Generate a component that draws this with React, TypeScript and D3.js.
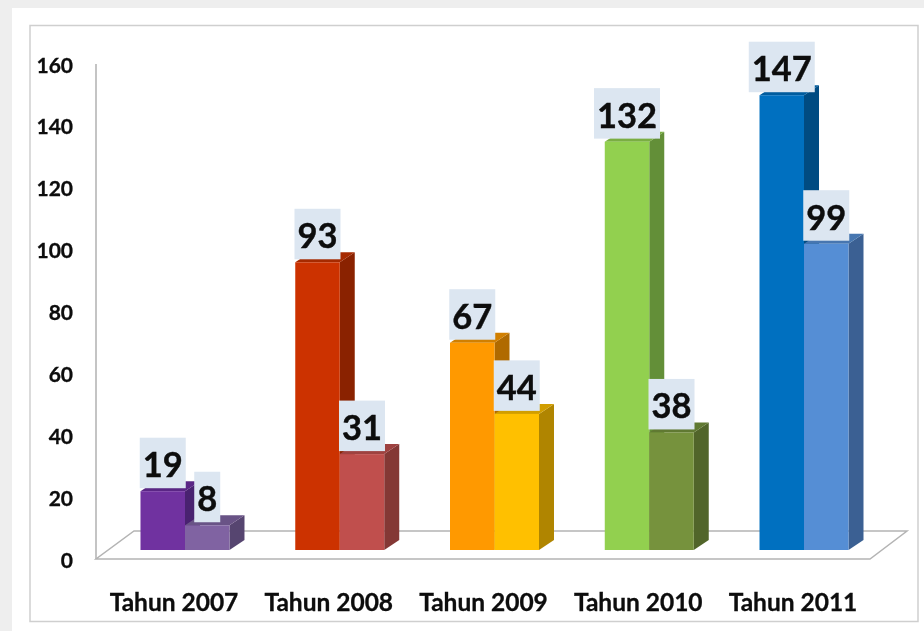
import React from "react";
import * as d3 from "d3";

const categories = ["Tahun 2007", "Tahun 2008", "Tahun 2009", "Tahun 2010", "Tahun 2011"];
const seriesA = [19, 93, 67, 132, 147];
const seriesB = [8, 31, 44, 38, 99];
const yTicks = [0, 20, 40, 60, 80, 100, 120, 140, 160];
const coloursA = [
  { front: "#7030a0", side: "#4a2070", top: "#5a2885" },
  { front: "#cc3300", side: "#8a2300", top: "#a62a00" },
  { front: "#ff9900", side: "#b06a00", top: "#d17f00" },
  { front: "#92d050", side: "#648f37", top: "#7aae43" },
  { front: "#0070c0", side: "#004b82", top: "#005c9e" },
];
const coloursB = [
  { front: "#8064a2", side: "#574570", top: "#695386" },
  { front: "#c0504d", side: "#843735", top: "#9e4240" },
  { front: "#ffc000", side: "#b08500", top: "#d19e00" },
  { front: "#76923c", side: "#516529", top: "#617932" },
  { front: "#558ed5", side: "#3a6193", top: "#4676b0" },
];

const W = 924, H = 631;
const BASE = 550, OFFSET = 9, DX = 15, DY = 10;
const FONT = "Lato, 'Open Sans', sans-serif";

export default function App() {
  const y = d3.scaleLinear().domain([0, 160]).range([BASE, 55]);
  const x = d3.scaleBand().domain(categories).range([140.5, 848.5]).paddingInner(0.425).paddingOuter(0);
  const bw = x.bandwidth() / 2;

  const bar = (x0: number, v: number, c: { front: string; side: string; top: string }, key: string) => {
    const t = y(v);
    const x1 = x0 + bw;
    return (
      <g key={key}>
        <path d={`M${x1},${t}L${x1 + DX},${t - DY}L${x1 + DX},${BASE - DY}L${x1},${BASE}Z`} fill={c.side} />
        <path d={`M${x0},${t}L${x0 + DX},${t - DY}L${x1 + DX},${t - DY}L${x1},${t}Z`} fill={c.top} />
        <rect x={x0} y={t} width={bw} height={BASE - t} fill={c.front} />
      </g>
    );
  };

  const label = (cx: number, v: number, key: string) => {
    const s = String(v);
    const w = s.length === 1 ? 26 : s.length === 2 ? 46 : 66;
    const t = y(v);
    return (
      <g key={key}>
        <rect x={cx - w / 2} y={t - 53.5} width={w} height={50.5} fill="#dce6f1" />
        <text x={cx} y={t - 14} textAnchor="middle" fontFamily={FONT} fontWeight={700} fontSize={34.5} stroke="#0a0a0a" strokeWidth={0.4} fill="#0a0a0a">{s}</text>
      </g>
    );
  };

  return (
    <svg width={W} height={H} viewBox={`0 0 ${W} ${H}`} style={{ position: "fixed", left: 0, top: 0, display: "block" }}>
      <defs>
        <filter id="soft" x="0" y="0" width="100%" height="100%"><feGaussianBlur stdDeviation="0.45" /></filter>
      </defs>
      <g filter="url(#soft)">
        <rect width={W} height={H} fill="#eeeeee" />
        <rect x={12} y={8} width={W - 12} height={H - 8} fill="#ffffff" />
        <rect x={30} y={25.5} width={888} height={596} fill="#ffffff" stroke="#cfcfcf" strokeWidth={1.5} />
        <line x1={96} x2={96} y1={64} y2={559} stroke="#b0b0b0" strokeWidth={1.5} />
        <path d={`M134,531L907,531L870,559L96,559Z`} fill="#ffffff" stroke="#b4b4b4" strokeWidth={1.5} />
        {yTicks.map((t) => (
          <text key={t} x={73} y={y(t) + OFFSET + 8.5} textAnchor="end" fontFamily={FONT} fontWeight={700} fontSize={21} stroke="#0a0a0a" strokeWidth={0.3} fill="#0a0a0a">{t}</text>
        ))}
        {categories.map((c, i) => (
          <g key={c}>
            {bar(x(c)!, seriesA[i], coloursA[i], "a" + i)}
            {bar(x(c)! + bw, seriesB[i], coloursB[i], "b" + i)}
          </g>
        ))}
        {categories.map((c, i) => (
          <g key={c}>
            {label(x(c)! + bw / 2, seriesA[i], "la" + i)}
            {label(x(c)! + bw * 1.5, seriesB[i], "lb" + i)}
          </g>
        ))}
        {categories.map((c) => (
          <text key={c} x={x(c)! + bw - 11} y={611} textAnchor="middle" fontFamily={FONT} fontWeight={700} fontSize={24.5} stroke="#0a0a0a" strokeWidth={0.3} fill="#0a0a0a">{c}</text>
        ))}
      </g>
    </svg>
  );
}
